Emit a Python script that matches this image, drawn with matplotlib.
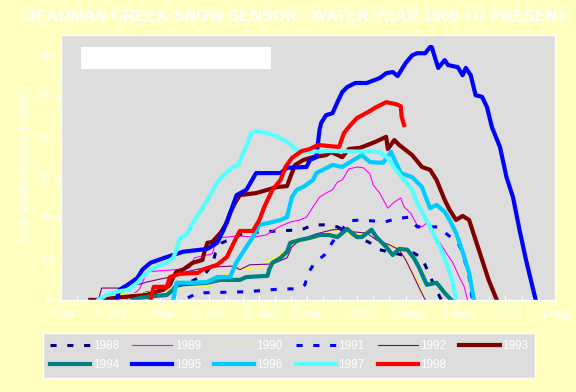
import matplotlib
matplotlib.use("Agg")
import matplotlib.pyplot as plt
from matplotlib.patches import Rectangle

plt.rcParams['font.family'] = ['Liberation Sans', 'DejaVu Sans']

# dane - dni od 1 pazdziernika, snieg w calach
days_1988 = [30, 53, 76, 88, 93, 95, 99, 113, 133, 148, 155, 162, 170, 190, 196, 210, 217, 222, 228, 233, 234]
swe_1988 = [0, 1.7, 3.7, 6.1, 8.6, 11.5, 14.0, 16.4, 16.9, 17.2, 18.4, 18.4, 17.9, 14.0, 12.3, 11.0, 11.5, 10.3, 4.9, 0.7, 0]

days_1989 = [40, 48, 53, 70, 79, 82, 93, 96, 110, 118, 126, 134, 141, 147, 151, 155, 159, 163, 167, 170, 173,
             177, 182, 186, 190, 192, 196, 201, 205, 209, 211, 215, 219, 222, 225, 228, 233, 237, 241, 245, 248, 250]
swe_1989 = [0, 2.5, 6.9, 7.4, 7.8, 10.3, 11.3, 15.2, 15.7, 15.4, 15.9, 17.9, 19.1, 19.6, 20.3, 22.8, 25.2, 26.2, 27.0,
            28.9, 29.4, 32.1, 32.6, 32.4, 30.9, 28.2, 26.2, 22.5, 24.0, 25.0, 22.8, 21.3, 18.4, 17.9, 18.9, 16.4,
            14.0, 11.5, 9.1, 5.6, 3.2, 0]

days_1990 = [24, 27, 61, 69, 90, 93, 98, 108, 114, 120, 128, 133, 139, 142, 147, 159, 166, 171, 177, 184,
             190, 196, 202, 206, 210, 214, 219, 224]
swe_1990 = [0, 1.0, 2.0, 2.9, 3.2, 4.2, 5.6, 7.4, 7.8, 7.4, 9.8, 10.5, 12.3, 13.5, 14.2, 15.4, 16.7, 17.2, 15.9,
            15.9, 17.2, 14.2, 13.0, 13.5, 11.5, 8.1, 4.9, 0]

days_1991 = [78, 84, 114, 136, 145, 150, 152, 156, 162, 167, 177, 185, 199, 206, 214, 219, 232, 238, 244, 247, 251, 253]
swe_1991 = [0.5, 1.7, 2.0, 2.7, 2.7, 3.7, 6.6, 9.1, 11.0, 14.2, 19.4, 19.6, 19.1, 19.9, 20.3, 17.9, 17.9, 15.9,
            14.2, 11.5, 5.6, 0]

days_1992 = [23, 25, 35, 41, 47, 53, 61, 67, 77, 85, 96, 106, 110, 116, 130, 139, 142, 147, 157, 167, 176,
             179, 188, 194, 202, 208, 212, 216, 220, 224]
swe_1992 = [0, 2.9, 2.9, 2.5, 3.7, 4.4, 5.1, 5.6, 6.9, 7.6, 8.1, 8.3, 7.4, 8.6, 8.8, 10.3, 13.0, 14.7, 16.2,
            17.2, 17.4, 16.7, 16.4, 14.7, 13.5, 12.3, 9.8, 6.6, 3.2, 0]

days_1993 = [18, 23, 38, 53, 56, 63, 67, 69, 71, 75, 81, 87, 88, 90, 93, 98, 102, 104, 107, 110, 120, 127,
             133, 139, 141, 144, 149, 155, 163, 166, 173, 177, 184, 193, 200, 201, 205, 208, 216, 222, 227,
             231, 236, 239, 243, 247, 251, 255, 259, 263, 268]
swe_1993 = [0, 0, 0.7, 1.2, 1.7, 2.5, 3.7, 5.6, 6.9, 7.4, 9.1, 9.8, 11.5, 14.0, 14.2, 16.4, 18.9, 21.3, 23.8,
            25.7, 26.2, 27.0, 27.7, 27.9, 30.1, 33.1, 34.3, 35.0, 35.5, 36.3, 35.0, 37.0, 37.3, 38.7, 40.0,
            37.0, 39.2, 38.0, 35.5, 32.6, 31.9, 29.4, 24.5, 22.1, 19.6, 20.6, 19.6, 14.7, 9.8, 4.9, 0]

days_1994 = [44, 49, 59, 65, 69, 71, 90, 98, 110, 114, 127, 128, 130, 135, 139, 141, 147, 153, 159, 165, 170,
             176, 182, 185, 191, 194, 200, 204, 208, 213, 217, 220, 225, 231, 236, 240]
swe_1994 = [0, 0.5, 1.0, 1.2, 2.5, 3.7, 4.2, 4.9, 4.9, 5.6, 5.9, 7.4, 9.1, 10.3, 11.8, 14.0, 14.7, 15.2, 15.9,
            15.9, 15.4, 17.4, 15.4, 15.4, 17.2, 15.4, 13.0, 11.0, 12.5, 12.3, 10.3, 8.1, 3.7, 4.2, 1.7, 0]

days_1995 = [34, 36, 41, 47, 50, 55, 65, 75, 90, 96, 100, 104, 108, 114, 120, 135, 139, 151, 153, 157, 159,
             160, 163, 167, 170, 173, 176, 181, 188, 196, 200, 204, 207, 212, 216, 219, 224, 227, 228, 232,
             236, 238, 244, 247, 249, 252, 255, 259, 262, 265, 270, 274, 278, 282, 286, 290, 292]
swe_1995 = [0, 2.5, 3.7, 5.4, 7.4, 9.1, 10.5, 11.8, 12.5, 14.0, 17.2, 21.3, 25.7, 27.0, 31.1, 31.1, 32.4,
            32.6, 34.3, 35.0, 41.7, 43.4, 45.3, 45.8, 48.5, 51.0, 52.2, 53.2, 53.2, 54.4, 55.6, 55.9, 54.9,
            58.1, 60.0, 60.5, 60.5, 62.0, 62.0, 56.9, 58.8, 57.6, 57.1, 55.1, 56.9, 55.1, 50.2, 49.8, 47.3,
            42.4, 37.5, 30.1, 25.2, 17.2, 9.8, 3.2, 0]

days_1996 = [69, 71, 81, 90, 96, 104, 108, 114, 118, 122, 128, 135, 139, 142, 145, 149, 155, 157, 167, 173,
             177, 185, 190, 198, 203, 206, 209, 216, 222, 225, 227, 231, 236, 239, 243, 247, 251, 254]
swe_1996 = [0, 4.2, 4.2, 4.4, 5.6, 5.6, 9.3, 13.0, 15.4, 18.4, 18.9, 19.6, 20.3, 25.2, 27.0, 27.7, 29.4,
            31.1, 33.1, 32.6, 33.6, 35.5, 33.8, 33.6, 36.3, 33.6, 31.1, 30.1, 27.7, 24.5, 22.5, 23.3, 21.6,
            19.6, 16.4, 11.8, 6.6, 0]

days_1997 = [23, 28, 34, 42, 47, 50, 55, 61, 65, 69, 71, 73, 77, 81, 85, 90, 96, 100, 105, 109, 112, 115,
             117, 120, 127, 133, 139, 145, 148, 165, 196, 201, 206, 210, 216, 219, 227, 233, 238, 241, 243]
swe_1997 = [0, 1.2, 2.0, 2.5, 4.2, 5.6, 7.4, 8.6, 9.1, 10.3, 12.3, 15.2, 15.9, 18.9, 21.3, 24.5, 28.9, 30.6,
            32.4, 33.1, 36.0, 38.7, 40.9, 41.4, 40.9, 40.0, 38.7, 36.8, 36.3, 36.5, 36.3, 34.8, 31.9, 29.9,
            27.0, 23.8, 17.9, 13.0, 8.1, 4.2, 0]

days_1998 = [55, 57, 65, 67, 73, 84, 87, 96, 102, 108, 110, 118, 122, 125, 130, 135, 138, 142, 148, 153, 158,
             171, 174, 177, 182, 189, 194, 200, 206, 209, 209.5, 211]
swe_1998 = [0, 3.2, 3.2, 5.6, 6.4, 6.6, 7.4, 8.6, 10.5, 15.4, 16.9, 16.9, 19.6, 22.8, 27.0, 29.4, 32.6, 34.8,
            36.5, 37.0, 38.0, 37.5, 40.9, 42.4, 44.6, 46.1, 47.3, 48.5, 48.0, 47.5, 44.9, 42.9]

tick_days = [0, 30, 61, 91, 122, 151, 182, 212, 243, 273, 304]
tick_labels = ['1-Oct', '31-Oct', '1-Dec', '31-Dec', '31-Jan', '1-Mar', '1-Apr', '1-May', '1-Jun', '1-Jul', '1-Aug']

### style serii: rok, dni, wartosci, kolor, grubosc, kreski
serie = [
    ('1988', days_1988, swe_1988, '#000080', 2.2, True),
    ('1989', days_1989, swe_1989, '#FF00FF', 0.8, False),
    ('1990', days_1990, swe_1990, '#FFFF00', 0.8, False),
    ('1991', days_1991, swe_1991, '#0000FF', 2.2, True),
    ('1992', days_1992, swe_1992, '#800080', 0.8, False),
    ('1993', days_1993, swe_1993, '#800000', 3.0, False),
    ('1994', days_1994, swe_1994, '#008080', 3.0, False),
    ('1995', days_1995, swe_1995, '#0000FF', 3.0, False),
    ('1996', days_1996, swe_1996, '#00CCFF', 3.0, False),
    ('1997', days_1997, swe_1997, '#55FFFF', 3.0, False),
    ('1998', days_1998, swe_1998, '#FF0000', 3.0, False),
]

fig = plt.figure(figsize=(5.76, 3.92), dpi=100, facecolor='#FFFFC0')
ax = fig.add_axes([0.106, 0.235, 0.858, 0.676])
ax.set_facecolor('#DDDDDD')

linie = []
for rok, d, v, kolor, lw, kreski in serie:
    if kreski:
        l, = ax.plot(d, v, color=kolor, lw=lw, dashes=(2, 3.5), label=rok)
    else:
        l, = ax.plot(d, v, color=kolor, lw=lw, label=rok)
    linie.append(l)

ax.set_xlim(0, 304)
ax.set_ylim(0, 65)

ax.set_xticks(tick_days)
ax.set_xticklabels(tick_labels)
minor_x = []
for i in range(len(tick_days) - 1):
    krok = (tick_days[i + 1] - tick_days[i]) / 3
    minor_x += [tick_days[i] + krok, tick_days[i] + 2 * krok]
ax.set_xticks(minor_x, minor=True)
ax.set_yticks(range(0, 61, 10))
ax.set_yticks(range(0, 65, 2), minor=True)

ax.tick_params(axis='both', which='both', colors='white', labelsize=8)
ax.tick_params(axis='x', which='major', direction='inout', length=7, pad=4)
ax.tick_params(axis='x', which='minor', direction='in', length=3)
ax.tick_params(axis='y', which='major', direction='out', length=5, pad=2)
ax.tick_params(axis='y', which='minor', direction='out', length=3)
for s in ax.spines.values():
    s.set_color('white')
    s.set_linewidth(1)

ax.set_ylabel('Snow Water Content (inches)', color='white', fontsize=8.5, labelpad=6)

# pusty bialy prostokat u gory
ax.add_patch(Rectangle((0.040, 0.872), 0.385, 0.083, transform=ax.transAxes,
                       facecolor='white', edgecolor='none', zorder=5))

fig.text(0.513, 0.957, 'DEADMAN CREEK SNOW SENSOR - WATER YEAR 1988 TO PRESENT',
         color='white', fontsize=11.7, fontweight='bold', ha='center', va='center')

# legenda wierszami: 1988-1993 u gory, 1994-1998 na dole
kolejnosc = [0, 6, 1, 7, 2, 8, 3, 9, 4, 10, 5]
leg = ax.legend([linie[i] for i in kolejnosc], [serie[i][0] for i in kolejnosc],
                loc='lower left', bbox_to_anchor=(0.075, 0.036, 0.854, 0.12),
                bbox_transform=fig.transFigure, mode='expand', ncol=6,
                fontsize=8.5, handlelength=3.4, handletextpad=0.2, borderpad=0.6,
                labelspacing=0.6, frameon=True, fancybox=False, borderaxespad=0)
leg.get_frame().set_facecolor('#DDDDDD')
leg.get_frame().set_edgecolor('white')
leg.get_frame().set_alpha(1)
for t in leg.get_texts():
    t.set_color('white')

fig.savefig('out.png', dpi=100, facecolor=fig.get_facecolor())
